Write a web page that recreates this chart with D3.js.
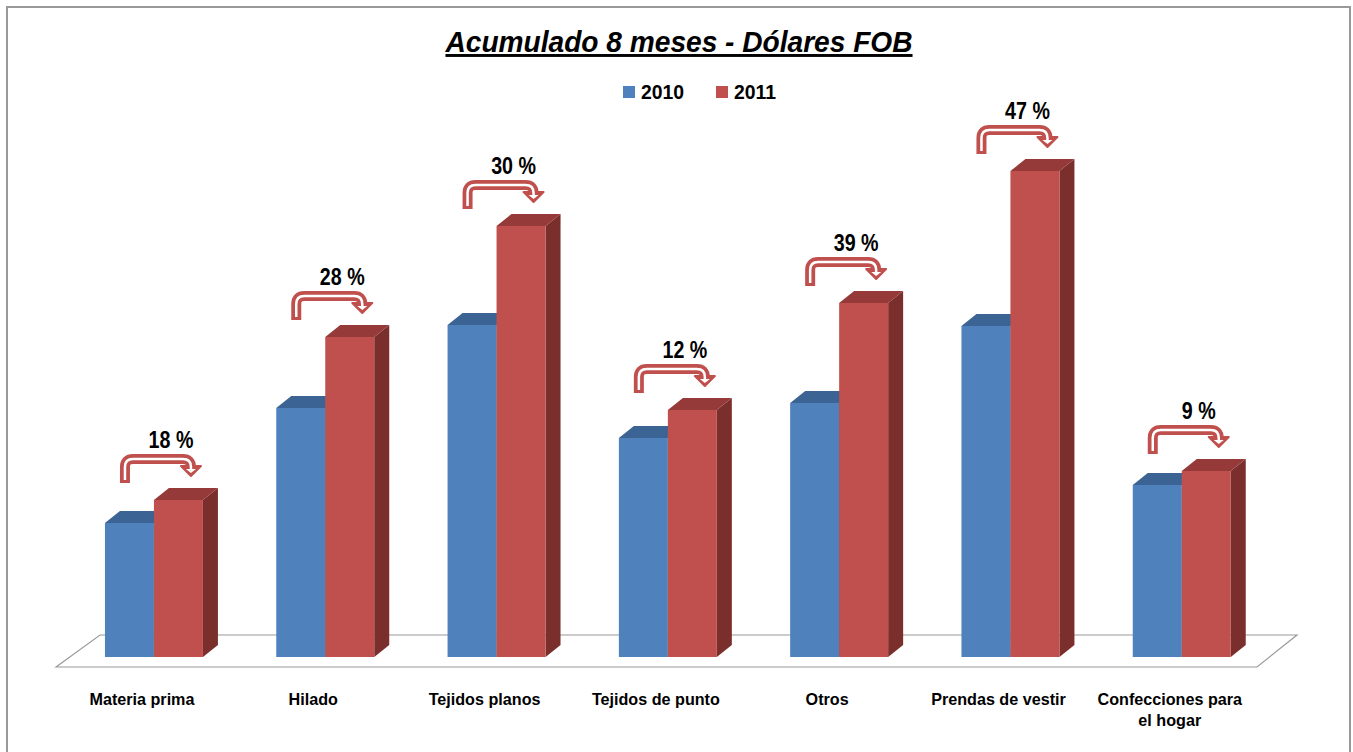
<!DOCTYPE html>
<html>
<head>
<meta charset="UTF-8">
<script src="https://d3js.org/d3.v7.min.js"></script>
<style>
  body { margin: 0; background: #fff; }
  text { font-family: "Liberation Sans", Arial, sans-serif; font-weight: bold; }
</style>
</head>
<body>
<div id="chart"></div>
<script>
var categories = ["Materia prima", "Hilado", "Tejidos planos", "Tejidos de punto", "Otros", "Prendas de vestir", "Confecciones para|el hogar"];
var series = ["2010", "2011"];
var values2010 = [134, 249, 332, 219, 254, 331, 172];
var values2011 = [157, 320, 431, 247, 354, 486, 186];
var growth = [18, 28, 30, 12, 39, 47, 9];

var width = 1353, height = 752;
var colors = { "2010": { front: "#4F81BD", top: "#3B6494", side: "#2F5077" },
               "2011": { front: "#C0504D", top: "#953A38", side: "#7A2F2D" } };
var depthX = 15, depthY = 12;

var svg = d3.select("#chart").append("svg")
    .attr("width", width)
    .attr("height", height);

// squeezed text helper
function ntext(parent, x, y, k) {
    return parent.append("text")
        .attr("transform", "translate(" + x + "," + y + ") scale(" + k + ",1)");
}

// outer frame
svg.append("rect")
    .attr("x", 7).attr("y", 7)
    .attr("width", 1343).attr("height", 770)
    .attr("fill", "none")
    .attr("stroke", "#999")
    .attr("stroke-width", 2);

// title
ntext(svg, 679, 52, 0.97)
    .attr("text-anchor", "middle")
    .style("font-size", "29px")
    .style("font-style", "italic")
    .style("text-decoration", "underline")
    .text("Acumulado 8 meses - Dólares FOB");

// legend
var legend = svg.append("g").selectAll("g")
    .data(series)
    .enter().append("g")
    .attr("transform", function (d, i) { return "translate(" + (623 + i * 93) + ",86)"; });
legend.append("rect")
    .attr("width", 12).attr("height", 12)
    .attr("fill", function (d) { return colors[d].front; });
legend.each(function (d) {
    ntext(d3.select(this), 18, 13, 0.97).style("font-size", "20px").text(d);
});

var x = d3.scaleBand()
    .domain(categories)
    .range([68.3, 1267.4])
    .paddingInner(0.428)
    .paddingOuter(0.214);

var xs = d3.scaleBand()
    .domain(series)
    .range([0, x.bandwidth()]);

var y = d3.scaleLinear()
    .domain([0, 500])
    .range([657, 157]);

// floor
svg.append("path")
    .attr("d", "M56,667 L100,635 L1297,635 L1257,667 Z")
    .attr("fill", "#fff")
    .attr("stroke", "#9a9a9a")
    .attr("stroke-width", 1.2);

var data = categories.map(function (c, i) {
    return { cat: c, vals: { "2010": values2010[i], "2011": values2011[i] }, g: growth[i] };
});

var groups = svg.append("g").selectAll("g")
    .data(data)
    .enter().append("g");

series.forEach(function (s) {
    groups.each(function (d) {
        var g = d3.select(this);
        var x0 = x(d.cat) + xs(s), w = xs.bandwidth();
        var yt = y(d.vals[s]), yb = y(0);
        // side
        g.append("path")
            .attr("d", "M" + (x0 + w) + "," + yb + " L" + (x0 + w + depthX) + "," + (yb - depthY) +
                " L" + (x0 + w + depthX) + "," + (yt - depthY) + " L" + (x0 + w) + "," + yt + " Z")
            .attr("fill", colors[s].side);
        // top
        g.append("path")
            .attr("d", "M" + x0 + "," + yt + " L" + (x0 + depthX) + "," + (yt - depthY) +
                " L" + (x0 + w + depthX) + "," + (yt - depthY) + " L" + (x0 + w) + "," + yt + " Z")
            .attr("fill", colors[s].top);
        // front
        g.append("rect")
            .attr("x", x0).attr("y", yt)
            .attr("width", w).attr("height", yb - yt)
            .attr("fill", colors[s].front);
    });
});

// growth arrows
function shaftPath(L, R, T, r, y0, y1) {
    return "M" + L + "," + y0 + " L" + L + "," + (T + r) +
        " Q" + L + "," + T + " " + (L + r) + "," + T +
        " L" + (R - r) + "," + T +
        " Q" + R + "," + T + " " + R + "," + (T + r) +
        " L" + R + "," + y1;
}
groups.each(function (d) {
    var g = d3.select(this);
    var bx = x(d.cat);
    var outer = y(d.vals["2011"]) - 46;
    var T = outer + 5, L = bx + 20, R = bx + 86, r = 8;
    var head = "M" + (R - 10) + "," + (outer + 12) + " L" + (R + 10) + "," + (outer + 12) +
        " L" + R + "," + (outer + 22) + " Z";
    var headIn = "M" + (R - 5) + "," + (outer + 15) + " L" + (R + 5) + "," + (outer + 15) +
        " L" + R + "," + (outer + 19) + " Z";
    g.append("path").attr("d", shaftPath(L, R, T, r, outer + 29, outer + 14)).attr("fill", "none")
        .attr("stroke", "#C0504D").attr("stroke-width", 10);
    g.append("path").attr("d", head).attr("fill", "#C0504D")
        .attr("stroke", "#C0504D").attr("stroke-width", 2).attr("stroke-linejoin", "round");
    g.append("path").attr("d", shaftPath(L, R, T, r, outer + 26, outer + 16)).attr("fill", "none")
        .attr("stroke", "#fff").attr("stroke-width", 2.5);
    g.append("path").attr("d", headIn).attr("fill", "#fff");
    ntext(g, bx + 66, outer - 6, 0.82)
        .attr("text-anchor", "middle")
        .style("font-size", "24px")
        .text(d.g + " %");
});

// category labels
groups.each(function (d) {
    var lines = d.cat.split("|");
    var t = ntext(d3.select(this), x(d.cat) + 37, 705, 0.95)
        .attr("text-anchor", "middle")
        .style("font-size", "17px");
    lines.forEach(function (l, i) {
        t.append("tspan").attr("x", 0).attr("dy", i ? 21 : 0).text(l);
    });
});
</script>
</body>
</html>
